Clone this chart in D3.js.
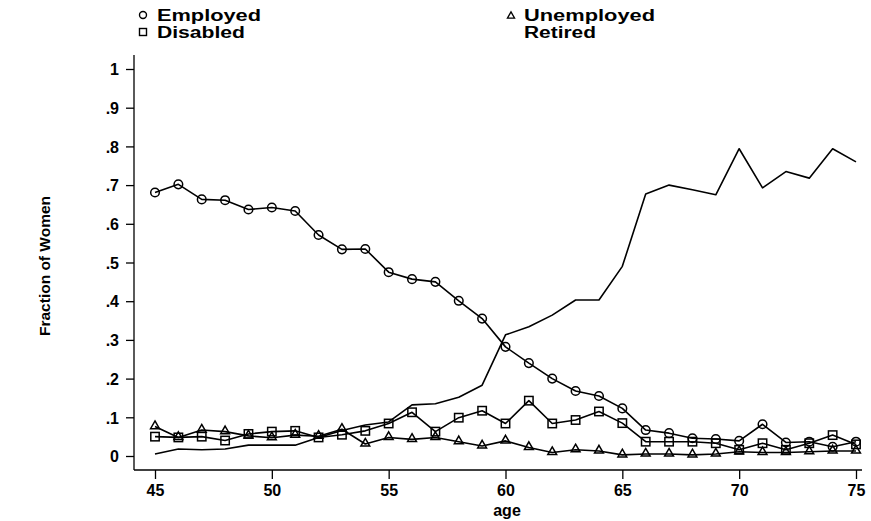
<!DOCTYPE html>
<html>
<head>
<meta charset="utf-8">
<script src="https://cdn.jsdelivr.net/npm/d3@7"></script>
<style>
  html, body { margin: 0; padding: 0; background: #fff; }
  svg { display: block; }
  text { font-family: "Liberation Sans", Arial, Helvetica, sans-serif; font-weight: bold; fill: #000; }
</style>
</head>
<body>
<svg id="chart" width="871" height="521"></svg>
<script>
// Labour-force status of women by age
const ages = d3.range(45, 76);

const employed = [0.681, 0.702, 0.663, 0.661, 0.637, 0.642, 0.633, 0.571, 0.534, 0.535,
  0.475, 0.457, 0.450, 0.401, 0.355, 0.282, 0.240, 0.200, 0.168, 0.155,
  0.123, 0.067, 0.059, 0.046, 0.044, 0.039, 0.082, 0.035, 0.037, 0.024, 0.037];

const unemployed = [0.076, 0.048, 0.067, 0.063, 0.052, 0.047, 0.054, 0.051, 0.069, 0.031,
  0.048, 0.043, 0.048, 0.037, 0.026, 0.039, 0.022, 0.009, 0.016, 0.013,
  0.003, 0.005, 0.005, 0.003, 0.005, 0.011, 0.009, 0.009, 0.011, 0.013, 0.013];

const disabled = [0.050, 0.048, 0.050, 0.040, 0.057, 0.063, 0.065, 0.048, 0.055, 0.065,
  0.084, 0.113, 0.063, 0.099, 0.117, 0.084, 0.143, 0.084, 0.093, 0.115,
  0.085, 0.037, 0.037, 0.037, 0.033, 0.016, 0.033, 0.016, 0.033, 0.054, 0.030];

const retired = [0.005, 0.018, 0.016, 0.018, 0.028, 0.028, 0.028, 0.048, 0.066, 0.080,
  0.088, 0.132, 0.135, 0.152, 0.183, 0.313, 0.334, 0.364, 0.403, 0.403,
  0.490, 0.677, 0.700, 0.688, 0.675, 0.794, 0.693, 0.735, 0.718, 0.794, 0.760];

const yTicks = [0, 0.1, 0.2, 0.3, 0.4, 0.5, 0.6, 0.7, 0.8, 0.9, 1];
const yTickLabels = ["0", ".1", ".2", ".3", ".4", ".5", ".6", ".7", ".8", ".9", "1"];
const xTicks = [45, 50, 55, 60, 65, 70, 75];

const svg = d3.select("#chart");

const x = d3.scaleLinear().domain([45, 75]).range([155, 856]);
const y = d3.scaleLinear().domain([0, 1]).range([456, 69]);

const axisX = 134, axisY = 470;

// y axis
const gy = svg.append("g").attr("transform", `translate(${axisX},0)`)
  .call(d3.axisLeft(y).tickValues(yTicks).tickSize(8).tickPadding(7)
    .tickFormat((d, i) => yTickLabels[i]));
gy.select(".domain").remove();
gy.selectAll(".tick line").attr("stroke", "#000").attr("stroke-width", 1.3);
gy.selectAll(".tick text").attr("font-size", 16).attr("dy", "0.36em");
svg.append("line").attr("x1", axisX).attr("x2", axisX).attr("y1", 55).attr("y2", axisY)
  .attr("stroke", "#000").attr("stroke-width", 1.3);

// x axis
const gx = svg.append("g").attr("transform", `translate(0,${axisY})`)
  .call(d3.axisBottom(x).tickValues(xTicks).tickSize(9).tickPadding(6));
gx.select(".domain").remove();
gx.selectAll(".tick line").attr("stroke", "#000").attr("stroke-width", 1.3);
gx.selectAll(".tick text").attr("font-size", 16);
svg.append("line").attr("x1", axisX).attr("x2", 862).attr("y1", axisY).attr("y2", axisY)
  .attr("stroke", "#000").attr("stroke-width", 1.3);

// axis titles
svg.append("text").attr("x", 507).attr("y", 516).attr("text-anchor", "middle")
  .attr("font-size", 16).text("age");
svg.append("text").attr("transform", "translate(50,266) rotate(-90)")
  .attr("text-anchor", "middle").attr("font-size", 14)
  .attr("textLength", 140).attr("lengthAdjust", "spacingAndGlyphs")
  .text("Fraction of Women");

// series lines
const line = d3.line().x((d, i) => x(ages[i])).y(d => y(d));
const lineStyle = sel => sel.attr("fill", "none").attr("stroke", "#000")
  .attr("stroke-width", 1.6).attr("stroke-linejoin", "round");

[retired, unemployed, disabled, employed].forEach(series => {
  svg.append("path").datum(series).attr("d", line).call(lineStyle);
});

// markers
const mk = svg.append("g").attr("fill", "none").attr("stroke", "#000").attr("stroke-width", 1.5);
const triPath = d3.symbol().type(d3.symbolTriangle).size(34)();
mk.selectAll("path.tri").data(unemployed).join("path").attr("class", "tri")
  .attr("d", triPath)
  .attr("transform", (d, i) => `translate(${x(ages[i])},${y(d) - 0.5})`);
mk.selectAll("rect.sq").data(disabled).join("rect").attr("class", "sq")
  .attr("x", (d, i) => x(ages[i]) - 4.2).attr("y", d => y(d) - 4.2)
  .attr("width", 8.4).attr("height", 8.4);
mk.selectAll("circle.ci").data(employed).join("circle").attr("class", "ci")
  .attr("cx", (d, i) => x(ages[i])).attr("cy", d => y(d)).attr("r", 4.3);

// legend
const leg = svg.append("g");
const legText = (tx, ty, label, w) => leg.append("text").attr("x", tx).attr("y", ty)
  .attr("font-size", 16).attr("textLength", w).attr("lengthAdjust", "spacingAndGlyphs").text(label);
leg.append("circle").attr("cx", 143).attr("cy", 15).attr("r", 3.5)
  .attr("fill", "none").attr("stroke", "#000").attr("stroke-width", 1.4);
legText(157, 21, "Employed", 104);
leg.append("rect").attr("x", 139.5).attr("y", 28.5).attr("width", 7).attr("height", 7)
  .attr("fill", "none").attr("stroke", "#000").attr("stroke-width", 1.4);
legText(157, 38, "Disabled", 88);
leg.append("path").attr("d", d3.symbol().type(d3.symbolTriangle).size(22)())
  .attr("transform", "translate(511,16)")
  .attr("fill", "none").attr("stroke", "#000").attr("stroke-width", 1.3);
legText(524, 21, "Unemployed", 131);
legText(524, 38, "Retired", 72);
</script>
</body>
</html>
